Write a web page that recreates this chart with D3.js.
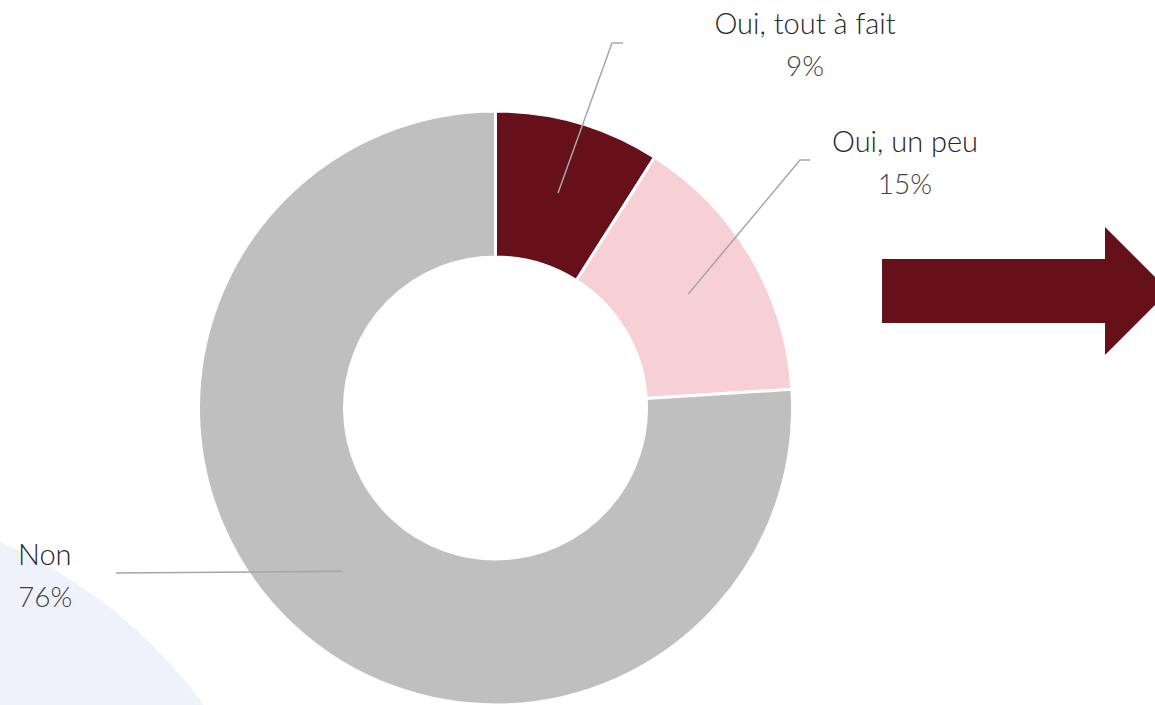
<!DOCTYPE html>
<html>
<head>
<meta charset="utf-8">
<script src="https://cdn.jsdelivr.net/npm/d3@7"></script>
<style>
  html, body { margin: 0; padding: 0; background: #fff; }
  svg { display: block; }
  text { font-family: "Lato", "Open Sans", sans-serif; font-weight: 300; }
</style>
</head>
<body>
<svg id="chart" width="1155" height="705"></svg>
<script>
// Survey answers and their shares (%)
const categories = ["Oui, tout à fait", "Oui, un peu", "Non"];
const values = [9, 15, 76];
const valueLabels = ["9%", "15%", "76%"];
const colors = ["#661019", "#f7d0d5", "#bfbfbf"];

const W = 1155, H = 705;
const svg = d3.select("#chart");

// Soft decorative disc in the lower-left corner
svg.append("circle")
  .attr("cx", -200).attr("cy", 1000).attr("r", 500)
  .attr("fill", "#eff2fa");

const cx = 495.5, cy = 408;
const outerR = 297, innerR = 151;

const pie = d3.pie().sort(null).value(d => d)(values);
const arc = d3.arc().innerRadius(innerR).outerRadius(outerR);

const g = svg.append("g").attr("transform", `translate(${cx},${cy})`);
g.selectAll("path.slice")
  .data(pie)
  .join("path")
  .attr("class", "slice")
  .attr("d", arc)
  .attr("fill", (d, i) => colors[i])
  .attr("stroke", "#fff")
  .attr("stroke-width", 3)
  .attr("stroke-linejoin", "miter");

// Leader lines: start at each slice's mid-angle, bend, and end near the label
const midR = (innerR + outerR) / 2;
const elbows = [[612, 43], [800, 160], null];
const ends = [[623, 43], [810, 160], [116, 573]];

pie.forEach((d, i) => {
  const a = (d.startAngle + d.endAngle) / 2;
  const sx = cx + midR * Math.sin(a);
  const sy = cy - midR * Math.cos(a);
  const pts = [[sx, sy]];
  if (elbows[i]) pts.push(elbows[i]);
  pts.push(ends[i]);
  svg.append("path")
    .attr("d", d3.line()(pts))
    .attr("fill", "none")
    .attr("stroke", "#a6a6a6")
    .attr("stroke-width", 1.5);
});

// Category labels with their percentages underneath
const labelPos = [
  { x: 805, y: 34, anchor: "middle" },
  { x: 905, y: 152, anchor: "middle" },
  { x: 18, y: 565, anchor: "start" }
];
categories.forEach((c, i) => {
  const p = labelPos[i];
  svg.append("text")
    .attr("x", p.x).attr("y", p.y)
    .attr("text-anchor", p.anchor)
    .attr("font-size", 29)
    .attr("fill", "#262626")
    .text(c);
  svg.append("text")
    .attr("x", p.x).attr("y", p.y + 42)
    .attr("text-anchor", p.anchor)
    .attr("font-size", 28)
    .attr("fill", "#404040")
    .text(valueLabels[i]);
});

// Block arrow pointing right
const arrow = [
  [882, 259], [1105, 259], [1105, 227], [1169, 291],
  [1105, 355], [1105, 323], [882, 323]
];
svg.append("path")
  .attr("d", d3.line()(arrow) + "Z")
  .attr("fill", "#661019");
</script>
</body>
</html>
